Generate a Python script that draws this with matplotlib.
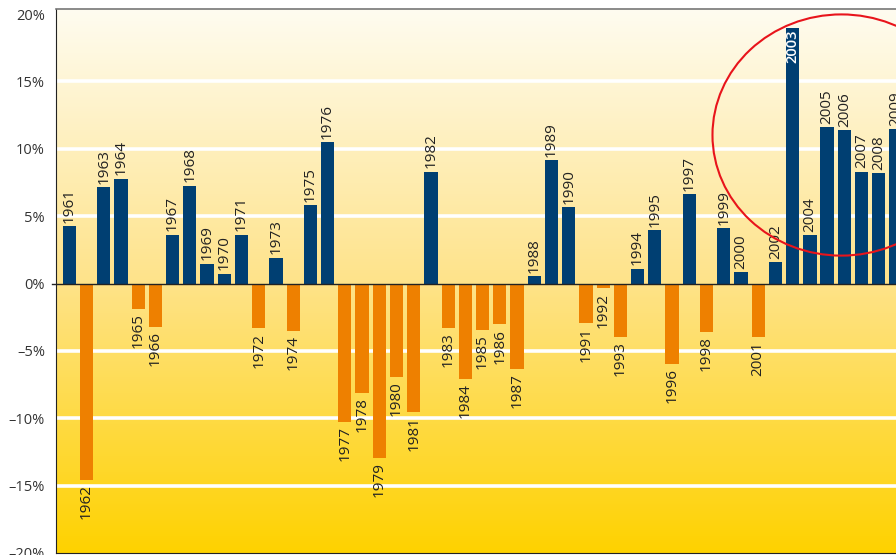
import numpy as np
import matplotlib
matplotlib.use("Agg")
from matplotlib import pyplot as plt
from matplotlib.patches import Ellipse
from matplotlib.colors import LinearSegmentedColormap

years = list(range(1961, 2010))
changes = [4.25, -14.57, 7.16, 7.78, -1.88, -3.21, 3.63, 7.26, 1.48, 0.74,
           3.63, -3.33, 1.90, -3.53, 5.80, 10.49, -10.25, -8.15, -12.96, -6.91,
           -9.51, 8.30, -3.33, -7.11, -3.46, -3.04, -6.37, 0.54, 9.14, 5.68,
           -2.91, -0.37, -3.95, 1.09, 3.95, -5.95, 6.64, -3.63, 4.12, 0.84,
           -3.95, 1.58, 18.94, 3.60, 11.60, 11.36, 8.30, 8.20, 11.46]
yticks = [20, 15, 10, 5, 0, -5, -10, -15, -20]
ytick_labels = ["20%", "15%", "10%", "5%", "0%",
                "\u20135%", "\u201310%", "\u201315%", "\u201320%"]

blue = "#003f72"
orange = "#ee8000"
plt.rcParams['font.family'] = ['Open Sans', 'DejaVu Sans']

fig = plt.figure(figsize=(8.96, 5.55), dpi=100)
ax = fig.add_axes([56 / 896, 2 / 555, 840 / 896, 1 - 11.3 / 555])

x0, x1 = 1960.23, 2009.0
y0, y1 = -20.0, 20.35

# background gradient, light cream on top to gold at the bottom
bg = LinearSegmentedColormap.from_list("bg", ["#ffd200", "#fee38a", "#fffcf0"])
grad = np.linspace(0, 1, 256).reshape(-1, 1)
ax.imshow(grad, extent=[x0, x1, y0, y1], origin="lower", aspect="auto",
          cmap=bg, zorder=0)

for g in [-15, -10, -5, 5, 10, 15]:
    ax.axhline(g, color="white", lw=2.6, zorder=1)

cols = [blue if v >= 0 else orange for v in changes]
ax.bar(years, changes, width=0.77, color=cols, zorder=2)
ax.axhline(0, color="#222222", lw=1.0, zorder=3)
ax.plot([1960.0, x0], [0, 0], color="#222222", lw=1.0, clip_on=False)

for yr, v in zip(years, changes):
    if yr == 2003:
        ax.annotate(str(yr), (yr, v), xytext=(0, -1), textcoords="offset points",
                    rotation=90, ha="center", va="top", fontsize=10.5,
                    color="white", fontweight="semibold", zorder=4)
    elif v >= 0:
        ax.annotate(str(yr), (yr, v), xytext=(0, 2.5), textcoords="offset points",
                    rotation=90, ha="center", va="bottom", fontsize=11,
                    color="#222222", zorder=4)
    else:
        ax.annotate(str(yr), (yr, v), xytext=(0, -3), textcoords="offset points",
                    rotation=90, ha="center", va="top", fontsize=11,
                    color="#222222", zorder=4)

ax.add_patch(Ellipse((2005.83, 11.02), 14.97, 17.9, fill=False,
                     edgecolor="#e8141b", lw=1.5, zorder=5))

ax.set_xlim(x0, x1)
ax.set_ylim(y0, y1)
ax.set_xticks([])
ax.set_yticks(yticks)
ax.set_yticklabels(ytick_labels, fontsize=10.5, color="#333333")
ax.tick_params(axis="y", length=0, pad=8)

ax.spines["right"].set_visible(False)
ax.spines["left"].set_color("#222222")
ax.spines["bottom"].set_color("#222222")
ax.spines["top"].set_color("#777777")
ax.spines["top"].set_linewidth(1.2)

fig.savefig("out.png", dpi=100)
